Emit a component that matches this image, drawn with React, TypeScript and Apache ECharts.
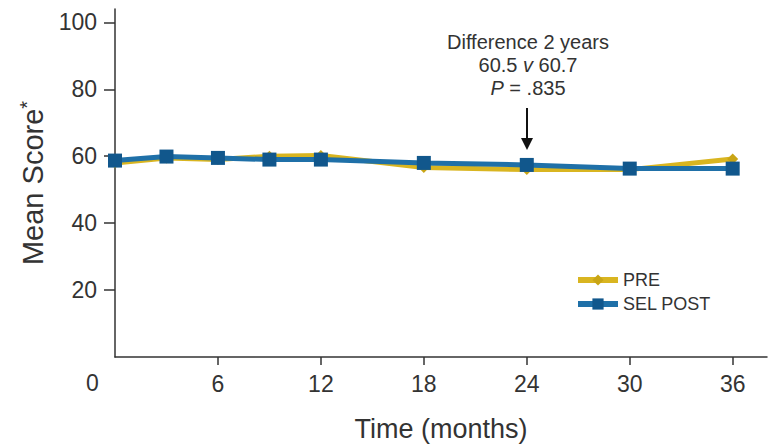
import React, { useEffect, useRef } from "react";
import * as echarts from "echarts";

const months = [0, 3, 6, 9, 12, 18, 24, 30, 36];
const preValues = [58, 59.5, 59, 60, 60.2, 56.6, 56, 56, 59.2];
const selPostValues = [58.7, 59.9, 59.5, 59, 59, 58, 57.4, 56.3, 56.3];
const xTickValues = [6, 12, 18, 24, 30, 36];
const yTickValues = [20, 40, 60, 80, 100];

const FONT = "'Liberation Sans Narrow', 'Arial Narrow', 'Liberation Sans', Arial, sans-serif";

export default function App() {
  const ref = useRef<HTMLDivElement>(null);
  useEffect(() => {
    if (!ref.current) return;
    const chart = echarts.init(ref.current, null, { renderer: "svg" });
    const toPairs = (vals: number[]) => months.map((m, i) => [m, vals[i]]);
    chart.setOption({
      animation: false,
      backgroundColor: "#ffffff",
      grid: { left: 115, right: 6, top: 9, bottom: 88, containLabel: false, outerBoundsMode: "none" },
      xAxis: {
        type: "value",
        min: 0,
        max: 38,
        name: "Time (months)",
        nameLocation: "middle",
        nameGap: 58,
        nameTextStyle: { fontFamily: FONT, fontSize: 27, color: "#333" },
        axisLine: { show: true, lineStyle: { color: "#333", width: 1.5 } },
        axisTick: { show: true, inside: false, length: 8, customValues: xTickValues, lineStyle: { color: "#333", width: 1.5 } },
        axisLabel: { customValues: xTickValues, fontFamily: FONT, fontSize: 23, color: "#333", margin: 15 },
        splitLine: { show: false },
      },
      yAxis: {
        type: "value",
        min: 0,
        max: 104,
        name: "Mean Score{s|*}",
        nameLocation: "middle",
        nameGap: 62,
        nameTextStyle: {
          fontFamily: FONT,
          fontSize: 29,
          color: "#333",
          rich: { s: { fontFamily: FONT, fontSize: 20, color: "#333", verticalAlign: "top", padding: [0, 0, 12, 0] } },
        },
        axisLine: { show: true, lineStyle: { color: "#333", width: 1.5 } },
        axisTick: { show: true, inside: false, length: 11, customValues: yTickValues, lineStyle: { color: "#333", width: 1.5 } },
        axisLabel: { customValues: yTickValues, fontFamily: FONT, fontSize: 23, color: "#333", margin: 18 },
        splitLine: { show: false },
      },
      legend: {
        left: 570,
        top: 266,
        orient: "vertical",
        itemWidth: 40,
        itemHeight: 14,
        itemGap: 6,
        lineStyle: { width: 6 },
        textStyle: { fontFamily: FONT, fontSize: 18, color: "#333" },
        data: ["PRE", "SEL POST"],
      },
      graphic: [
        {
          type: "text",
          left: 86,
          top: 371,
          style: { text: "0", fontFamily: FONT, fontSize: 23, fill: "#333" },
        },
        {
          type: "text",
          x: 528,
          y: 30,
          style: {
            text: "Difference 2 years\n60.5 {i|v} 60.7\n{i|P} = .835",
            fontFamily: FONT,
            fontSize: 20,
            lineHeight: 23,
            fill: "#333",
            align: "center",
            rich: { i: { fontStyle: "italic", fontFamily: FONT, fontSize: 20, fill: "#333" } },
          },
        },
        {
          type: "line",
          shape: { x1: 527, y1: 108, x2: 527, y2: 146 },
          style: { stroke: "#111", lineWidth: 2 },
        },
        {
          type: "polygon",
          shape: { points: [[521, 138], [533, 138], [527, 150]] },
          style: { fill: "#111" },
        },
      ],
      series: [
        {
          name: "PRE",
          type: "line",
          data: toPairs(preValues),
          symbol: "diamond",
          symbolSize: 11,
          color: "#d9b520",
          lineStyle: { color: "#d9b520", width: 5 },
          itemStyle: { color: "#c9a515" },
          z: 2,
        },
        {
          name: "SEL POST",
          type: "line",
          data: toPairs(selPostValues),
          symbol: "rect",
          symbolSize: 14,
          color: "#1f70a8",
          lineStyle: { color: "#1f70a8", width: 5 },
          itemStyle: { color: "#11578c" },
          z: 3,
        },
      ],
    });
    return () => chart.dispose();
  }, []);
  return <div ref={ref} style={{ position: "fixed", left: 0, top: 0, width: 773, height: 445 }} />;
}
